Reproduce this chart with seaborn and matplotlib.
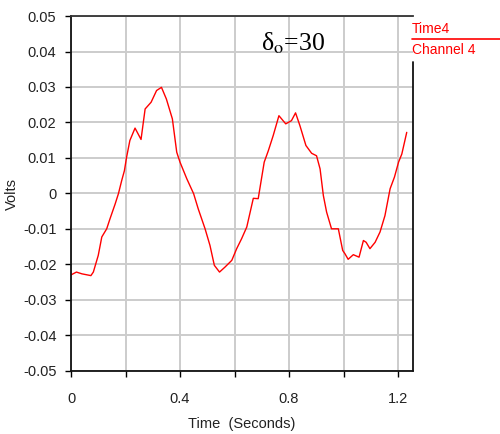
import numpy as np
import pandas as pd
import seaborn as sns
import matplotlib
matplotlib.use("Agg")
import matplotlib.pyplot as plt
from matplotlib.lines import Line2D

# Channel 4 recording: time (s) and voltage (V)
time_s = [0.0, 0.02, 0.04, 0.073, 0.082, 0.1, 0.113, 0.131, 0.143, 0.162,
          0.174, 0.186, 0.196, 0.204, 0.216, 0.235, 0.257, 0.272, 0.294, 0.314,
          0.332, 0.35, 0.372, 0.388, 0.4, 0.425, 0.45, 0.467, 0.492, 0.51,
          0.526, 0.545, 0.565, 0.59, 0.608, 0.626, 0.645, 0.669, 0.687, 0.697,
          0.709, 0.724, 0.742, 0.763, 0.788, 0.809, 0.824, 0.84, 0.862, 0.883,
          0.901, 0.914, 0.926, 0.938, 0.956, 0.981, 0.997, 1.005, 1.017, 1.036,
          1.057, 1.073, 1.083, 1.097, 1.116, 1.134, 1.152, 1.171, 1.187, 1.202,
          1.214, 1.232]
volts = [-0.023, -0.0222, -0.0227, -0.0232, -0.0222, -0.0175, -0.0123, -0.010,
         -0.0072, -0.003, -0.0001, 0.0036, 0.0064, 0.0102, 0.0149, 0.0184,
         0.0152, 0.0238, 0.0257, 0.029, 0.0299, 0.0266, 0.021, 0.0116, 0.0088,
         0.0041, -0.0001, -0.0044, -0.010, -0.0147, -0.0203, -0.0222, -0.0208,
         -0.0189, -0.0156, -0.0128, -0.0095, -0.0014, -0.0015, 0.0032, 0.0088,
         0.012, 0.0163, 0.0219, 0.0196, 0.0205, 0.0227, 0.0191, 0.0135, 0.0113,
         0.0106, 0.0069, -0.0006, -0.0053, -0.010, -0.010, -0.0161, -0.017,
         -0.0186, -0.0173, -0.018, -0.0133, -0.0138, -0.0156, -0.0138, -0.0109,
         -0.0063, 0.0013, 0.0046, 0.0088, 0.0111, 0.0172]

x_grid = [0.0, 0.2, 0.4, 0.6, 0.8, 1.0, 1.2]
x_labels = ["0", "", "0.4", "", "0.8", "", "1.2"]
y_ticks = [-0.05, -0.04, -0.03, -0.02, -0.01, 0.0, 0.01, 0.02, 0.03, 0.04, 0.05]
y_labels = ["-0.05", "-0.04", "-0.03", "-0.02", "-0.01", "0",
            "0.01", "0.02", "0.03", "0.04", "0.05"]

df = pd.DataFrame({"Time": time_s, "Volts": volts})

sns.set_theme(style="white")
plt.rcParams["font.family"] = ["Liberation Sans", "DejaVu Sans"]
plt.rcParams["mathtext.fontset"] = "stix"

fig = plt.figure(figsize=(5.0, 4.34), dpi=100)
ax = fig.add_axes([0.142, 0.146, 0.684, 0.817])

sns.lineplot(data=df, x="Time", y="Volts", ax=ax, color="#ff0000",
             linewidth=1.0, estimator=None, sort=False)

ax.set_xlim(0, 1.255)
ax.set_ylim(-0.05, 0.05)
ax.set_xticks(x_grid)
ax.set_xticklabels(x_labels)
ax.set_yticks(y_ticks)
ax.set_yticklabels(y_labels)
ax.grid(True, color="#cccccc", linewidth=1.4)
ax.set_axisbelow(True)

ax.tick_params(axis="both", direction="out", length=4.5, width=1.0,
               color="black", labelsize=10.5, labelcolor="#222222")
ax.tick_params(axis="y", pad=6)
ax.tick_params(axis="x", pad=11)
ax.tick_params(bottom=True, left=True)

for side in ["left", "bottom", "top"]:
    ax.spines[side].set_visible(True)
    ax.spines[side].set_color("#111111")
    ax.spines[side].set_linewidth(1.3)
ax.spines["top"].set_color("#333333")
ax.spines["right"].set_visible(False)
# right border stops below the legend block
ax.plot([1, 1], [0, 0.870], transform=ax.transAxes, color="#111111",
        linewidth=1.3, clip_on=False)

ax.set_xlabel("Time  (Seconds)", fontsize=10.5, color="#222222", labelpad=8)
ax.set_ylabel("")
fig.text(0.024, 0.552, "Volts", fontsize=10.5, color="#222222",
         rotation=90, ha="center", va="center")

# annotation of the initial angle
fig.text(0.522, 0.885, "δ$_{\\mathrm{o}}$=30", fontsize=18.5,
         family="Liberation Serif", color="black", ha="left", va="baseline")

# legend block at the upper right
fig.text(0.824, 0.917, "Time4", fontsize=10, color="#ff0000",
         ha="left", va="bottom")
fig.add_artist(Line2D([0.824, 1.0], [0.909, 0.909], transform=fig.transFigure,
                      color="#ff0000", linewidth=1.2))
fig.text(0.824, 0.900, "Channel 4", fontsize=10, color="#ff0000",
         ha="left", va="top")

fig.savefig("out.png", dpi=100, facecolor="white")
